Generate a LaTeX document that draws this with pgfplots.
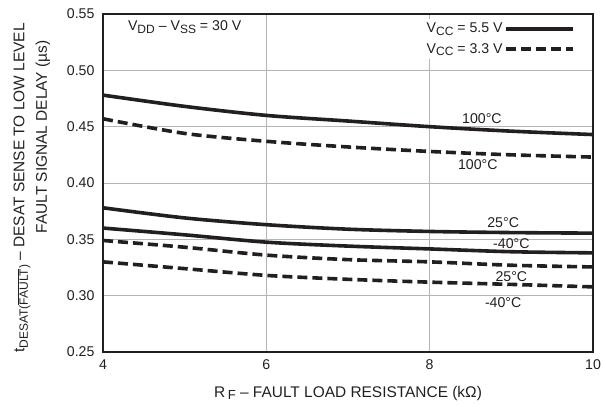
\documentclass[border=0pt]{standalone}
\usepackage{pgfplots}
\pgfplotsset{compat=1.18}
\usepackage{fontspec}
\setmainfont{Liberation Sans}
\definecolor{ink}{HTML}{231F20}
\definecolor{gridc}{HTML}{B4B4B8}
\newcommand{\sub}[1]{\raisebox{-0.35ex}{\scalebox{0.85}{#1}}}
\begin{document}
\begin{tikzpicture}
\begin{axis}[
  name=ax,
  scale only axis,
  width=490bp, height=338bp,
  xmin=4, xmax=10, ymin=0.25, ymax=0.55,
  xtick={4,6,8,10},
  ytick={0.25,0.30,0.35,0.40,0.45,0.50,0.55},
  grid=major,
  major grid style={gridc, line width=0.7bp},
  major tick length=0pt,
  axis line style={ink, line width=2.6bp},
  ticklabel style={font=\fontsize{14.2}{16}\selectfont, text=ink},
  /pgf/number format/assume math mode=true,
  yticklabel style={/pgf/number format/fixed, /pgf/number format/fixed zerofill, /pgf/number format/precision=2, xshift=-5bp},
  xticklabel style={yshift=-4bp},
  legend style={at={(rel axis cs:0.97,0.985)}, anchor=north east, draw=none, fill=white,
    font=\fontsize{14.2}{16}\selectfont, row sep=5bp, text=ink},
  legend cell align=right,
  legend plot pos=right,
  legend image code/.code={\draw[#1] (0bp,0bp) -- (67bp,0bp);},
  clip=false,
]
\addlegendimage{ink, line width=3.5bp}
\addlegendentry{V\sub{CC} = 5.5 V}
\addlegendimage{ink, line width=3.5bp, dash pattern=on 10bp off 5bp}
\addlegendentry{V\sub{CC} = 3.3 V}

\addplot[ink, line width=3.6bp, smooth, forget plot] coordinates {(4,0.478) (5,0.468) (6,0.460) (7,0.455) (8,0.450) (9,0.446) (10,0.443)};
\addplot[ink, line width=3.6bp, dash pattern=on 10bp off 5bp, smooth, forget plot] coordinates {(4,0.457) (5,0.444) (6,0.437) (7,0.432) (8,0.428) (9,0.425) (10,0.423)};
\addplot[ink, line width=3.6bp, smooth, forget plot] coordinates {(4,0.378) (5,0.369) (6,0.363) (7,0.359) (8,0.357) (9,0.356) (10,0.3555)};
\addplot[ink, line width=3.6bp, smooth, forget plot] coordinates {(4,0.360) (5,0.354) (6,0.3475) (7,0.344) (8,0.3415) (9,0.339) (10,0.338)};
\addplot[ink, line width=3.6bp, dash pattern=on 10bp off 5bp, smooth, forget plot] coordinates {(4,0.349) (5,0.343) (6,0.336) (7,0.332) (8,0.330) (9,0.327) (10,0.3255)};
\addplot[ink, line width=3.6bp, dash pattern=on 10bp off 5bp, smooth, forget plot] coordinates {(4,0.330) (5,0.324) (6,0.318) (7,0.3145) (8,0.312) (9,0.310) (10,0.3078)};

\begin{scope}[every node/.style={font=\fontsize{14.2}{16}\selectfont, text=ink}]
\node at (axis cs:8.64,0.4567) {100°C};
\node at (axis cs:8.59,0.416) {100°C};
\node at (axis cs:8.9,0.365) {25°C};
\node at (axis cs:9.0,0.3466) {-40°C};
\node at (axis cs:9.0,0.3166) {25°C};
\node at (axis cs:8.9,0.294) {-40°C};
\node at (axis cs:5.0,0.5385) {V\sub{DD} – V\sub{SS} = 30 V};
\end{scope}
\end{axis}
\node[rotate=90, font=\fontsize{15.5}{17}\selectfont, text=ink] at ([shift={(-81bp,-5bp)}]ax.west)
  {t\raisebox{-0.45ex}{\scalebox{0.78}{DESAT(}$\overline{\mbox{\scalebox{0.78}{FAULT}}}$\scalebox{0.78}{)}} – DESAT SENSE TO LOW LEVEL};
\node[rotate=90, font=\fontsize{15.5}{17}\selectfont, text=ink] at ([shift={(-60bp,46bp)}]ax.west)
  {FAULT SIGNAL DELAY (µs)};
\node[font=\fontsize{15.5}{17}\selectfont, text=ink] at ([yshift=-41bp]ax.south)
  {R\,\sub{F} – FAULT LOAD RESISTANCE (kΩ)};
\pgfresetboundingbox
\path ([shift={(-103bp,-54bp)}]ax.south west) rectangle ([shift={(10bp,14bp)}]ax.north east);
\end{tikzpicture}
\end{document}
